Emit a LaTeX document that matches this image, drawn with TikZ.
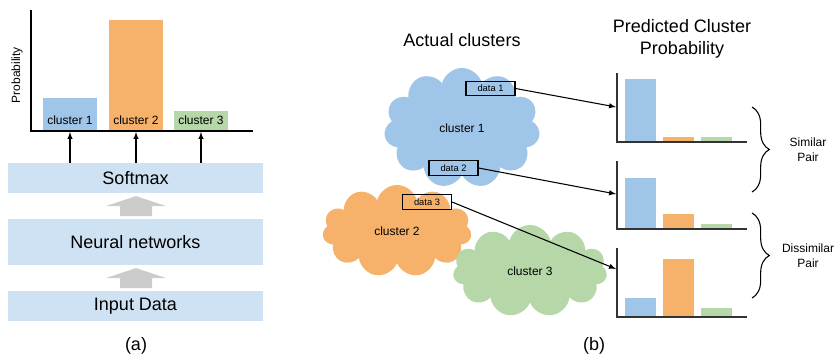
\documentclass[tikz,border=0pt]{standalone}
\usepackage{fontspec}
\setmainfont{Liberation Sans}
\usepackage{tikz}
\usetikzlibrary{shapes,arrows}
\usetikzlibrary{decorations.pathreplacing}

\definecolor{barblue}{HTML}{9FC5E8}
\definecolor{barorange}{HTML}{F6B26B}
\definecolor{bargreen}{HTML}{B6D7A8}
\definecolor{layerblue}{HTML}{CFE2F3}
\definecolor{fatgray}{HTML}{CCCCCC}

\tikzset{
    layer/.style={fill=layerblue, minimum width=191.25pt, inner sep=0pt, font=\fontsize{13.5}{16}\selectfont},
    blob/.style={cloud, cloud puffs=11, cloud ignores aspect, inner sep=0pt, font=\fontsize{9}{11}\selectfont},
    databox/.style={draw, line width=0.8pt, minimum width=36.75pt, minimum height=11pt, inner sep=0pt, font=\fontsize{7}{8}\selectfont},
    small/.style={inner sep=0.75pt, font=\fontsize{9}{11}\selectfont},
    big/.style={inner sep=0.75pt, font=\fontsize{13.5}{16.5}\selectfont},
    link/.style={line width=0.8pt, -latex},
    pairbrace/.style={line width=0.8pt, decorate, decoration={brace, amplitude=13pt}},
}

\begin{document}
\begin{tikzpicture}[x=0.75pt,y=0.75pt,yscale=-1,xscale=1]
    \useasboundingbox (0,0) rectangle (835,354);

    % (a): bar chart over the network
    \fill[barblue] (43,98) rectangle (97,131);
    \fill[barorange] (109,20) rectangle (163,131);
    \fill[bargreen] (174,111) rectangle (228,131);
    \draw[line width=0.9pt] (31,10) -- (31,131) -- (253,131);
    \node[small] (lab1) at (70,120) {cluster 1};
    \node[small] (lab2) at (136,120) {cluster 2};
    \node[small] (lab3) at (201,120) {cluster 3};
    \node[small, rotate=90] (prob) at (17,75) {Probability};

    % layers
    \node[layer, minimum height=22.5pt] (softmax) at (135.5,178) {Softmax};
    \node[layer, minimum height=34.5pt] (nn) at (135.5,242) {Neural networks};
    \node[layer, minimum height=22.5pt] (input) at (135.5,306) {Input Data};

    \coordinate (top1) at (70,132);
    \coordinate (top2) at (136,132);
    \coordinate (top3) at (201,132);
    \foreach \i in {1,2,3}
        \draw[link] (softmax.north -| top\i) -- (top\i);

    % fat arrows between layers
    \foreach \y in {196,268}
        \fill[fatgray] (136,\y) -- (166,\y+10) -- (152,\y+10) -- (152,\y+20) -- (120,\y+20) -- (120,\y+10) -- (106,\y+10) -- cycle;

    \node[big] (capa) at (136,346) {(a)};

    % (b): clusters
    \node[big] (actual) at (462,40) {Actual clusters};
    \node[blob, fill=barblue, minimum width=117pt, minimum height=90pt] (c1) at (462,128) {cluster 1};
    \node[blob, fill=barorange, minimum width=111.75pt, minimum height=69pt] (c2) at (397,231) {cluster 2};
    \node[blob, fill=bargreen, minimum width=115.5pt, minimum height=69pt] (c3) at (530,271) {cluster 3};

    \node[databox] (d1) at (490.5,88.5) {data 1};
    \node[databox] (d2) at (453.5,168) {data 2};
    \node[databox] (d3) at (427,202) {data 3};

    % predicted probabilities
    \node[big, align=center] (pred) at (682,39) {Predicted Cluster\\Probability};
    \foreach \base/\top/\b/\o/\g in {142/73/79/137/137, 229/161/178/214/224, 317/248/298/259/308}{
        \fill[barblue] (625,\b) rectangle (656,\base);
        \fill[barorange] (663,\o) rectangle (694,\base);
        \fill[bargreen] (701,\g) rectangle (732,\base);
        \draw[line width=0.9pt, black!80] (617,\top) -- (617,\base) -- (747,\base);
    }

    \coordinate (in1) at (616,107);
    \coordinate (in2) at (616,194);
    \coordinate (in3) at (616,269);
    \draw[link] (d1.east) -- (in1);
    \draw[link] (d2.east) -- (in2);
    \draw[link] (d3.east) -- (in3);

    % braces
    \draw[pairbrace] (752,107) -- (752,192);
    \draw[pairbrace] (752,213) -- (752,298);
    \node[small, align=center] (sim) at (808,150) {Similar\\Pair};
    \node[small, align=center] (dis) at (808,256) {Dissimilar\\Pair};

    \node[big] (capb) at (594,346) {(b)};

\end{tikzpicture}
\end{document}
